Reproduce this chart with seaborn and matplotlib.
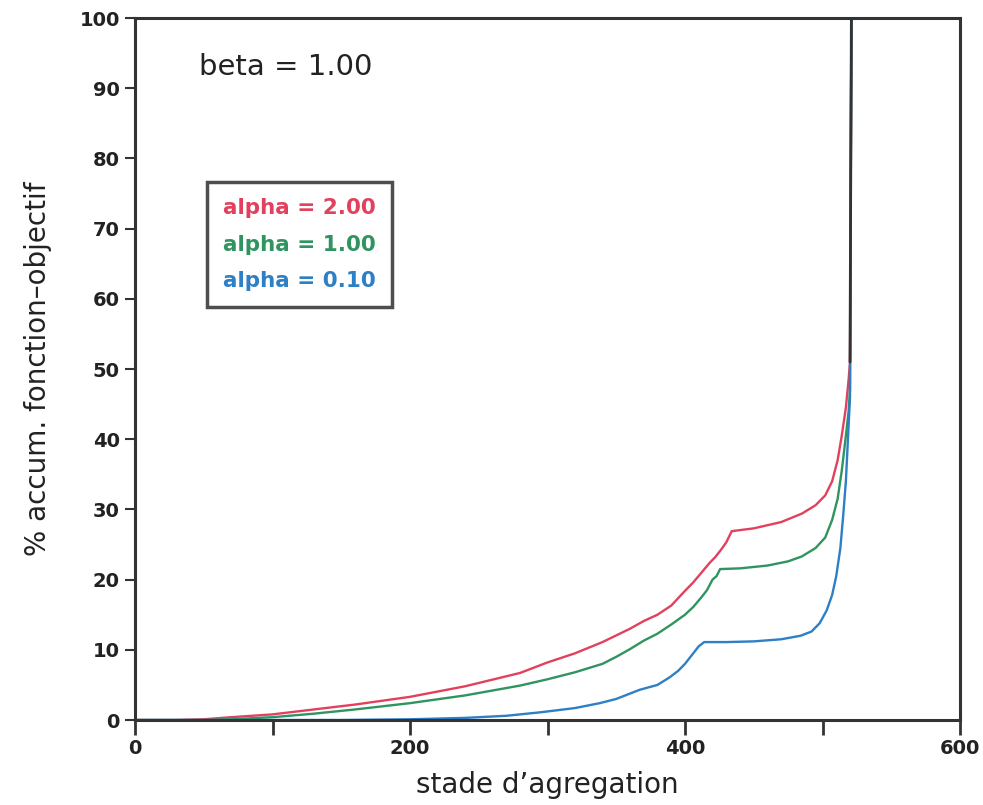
import numpy as np
import pandas as pd
import matplotlib
matplotlib.use("Agg")
import matplotlib.pyplot as plt
import seaborn as sns

# ---- data ----
x_a2 = [0, 30, 50, 70, 100, 130, 160, 200, 240, 280, 300, 320, 340, 360, 370, 380, 390,
        400, 406, 412, 418, 422, 426, 430, 434, 450, 470, 485, 495, 502, 507, 511, 514,
        517, 519, 520, 521]
y_a2 = [0, 0, 0.1, 0.4, 0.8, 1.5, 2.2, 3.3, 4.8, 6.7, 8.2, 9.5, 11.1, 13.0, 14.1, 15.0,
        16.3, 18.4, 19.6, 21.0, 22.4, 23.2, 24.2, 25.3, 26.9, 27.3, 28.2, 29.4, 30.6, 32.0,
        34.0, 37.0, 40.5, 44.5, 48.5, 51.0, 100]

x_a1 = [0, 50, 70, 100, 130, 160, 200, 240, 280, 300, 320, 340, 350, 360, 370, 380, 390, 400,
        406, 412, 416, 420, 423, 425.5, 440, 460, 475, 485, 495, 502, 507, 511, 514, 517,
        519, 520, 521]
y_a1 = [0, 0, 0.1, 0.4, 0.9, 1.5, 2.4, 3.5, 4.9, 5.8, 6.8, 8.0, 9.0, 10.1, 11.3, 12.3, 13.6,
        15.0, 16.1, 17.5, 18.5, 20.0, 20.5, 21.5, 21.6, 22.0, 22.6, 23.3, 24.5, 26.0, 28.5,
        31.5, 35.5, 40.5, 44.0, 47.0, 100]

x_a01 = [0, 100, 150, 200, 240, 270, 295, 320, 338, 350, 367, 380, 389, 395, 400, 406, 410,
         414, 430, 450, 470, 484, 492, 498, 503, 507, 510, 513, 515, 517, 518.5, 520, 521]
y_a01 = [0, 0, 0, 0.1, 0.3, 0.6, 1.1, 1.7, 2.4, 3.0, 4.3, 5.0, 6.1, 7.0, 8.0, 9.5, 10.5,
         11.1, 11.1, 11.2, 11.5, 12.0, 12.6, 13.8, 15.6, 17.8, 20.5, 24.5, 29.0, 34.0, 40.0,
         46.0, 100]

labels = ["alpha = 2.00", "alpha = 1.00", "alpha = 0.10"]
colors = ["#e2415e", "#2f9460", "#2d7fc6"]
x_ticks = [0, 100, 200, 300, 400, 500, 600]
x_ticklabels = ["0", "", "200", "", "400", "", "600"]
y_ticks = list(range(0, 101, 10))
annotation = "beta = 1.00"

df = pd.concat([
    pd.DataFrame({"stade": x_a2, "pct": y_a2, "serie": labels[0]}),
    pd.DataFrame({"stade": x_a1, "pct": y_a1, "serie": labels[1]}),
    pd.DataFrame({"stade": x_a01, "pct": y_a01, "serie": labels[2]}),
], ignore_index=True)

sns.set_style("white")
plt.rcParams["font.family"] = ["DejaVu Sans"]

fig = plt.figure(figsize=(9.83, 8.05), dpi=100)
ax = fig.add_axes([135 / 983, 1 - 720 / 805, 825 / 983, 702 / 805])

sns.lineplot(data=df, x="stade", y="pct", hue="serie", palette=dict(zip(labels, colors)),
             sort=False, estimator=None, linewidth=1.7, ax=ax)

# dark final jump to 100 (overlapping curves)
ax.plot(x_a2[-2:], y_a2[-2:], color="#333333", linewidth=2.0, zorder=5)

ax.set_xlim(0, 600)
ax.set_ylim(0, 100)
ax.set_xticks(x_ticks)
ax.set_xticklabels(x_ticklabels)
ax.set_yticks(y_ticks)

for s in ax.spines.values():
    s.set_linewidth(2.2)
    s.set_color("#333333")

ax.tick_params(axis="x", bottom=True, direction="out", length=11, width=2,
               color="#333333", pad=3, labelsize=14)
ax.tick_params(axis="y", left=True, direction="out", length=7, width=1.5,
               color="#333333", pad=4, labelsize=14)
for t in ax.get_xticklabels() + ax.get_yticklabels():
    t.set_fontweight("bold")
    t.set_color("#222222")

ax.set_xlabel("stade d\u2019agregation", fontsize=20, color="#222222", labelpad=9)
ax.set_ylabel("% accum. fonction\u2013objectif", fontsize=20, color="#222222", labelpad=20)

ax.text(0.078, 0.93, annotation, transform=ax.transAxes, fontsize=21, color="#222222",
        ha="left", va="center")

leg = ax.legend(loc="upper left", bbox_to_anchor=(0.087, 0.767), borderaxespad=0,
                handlelength=0, handletextpad=0, labelcolor="linecolor",
                prop={"size": 15.5, "weight": "bold"}, frameon=True, fancybox=False,
                borderpad=0.75, labelspacing=0.78, title=None)
for h in leg.legend_handles:
    h.set_visible(False)
frame = leg.get_frame()
frame.set_edgecolor("#222222")
frame.set_linewidth(2.5)

fig.savefig("out.png", dpi=100)
